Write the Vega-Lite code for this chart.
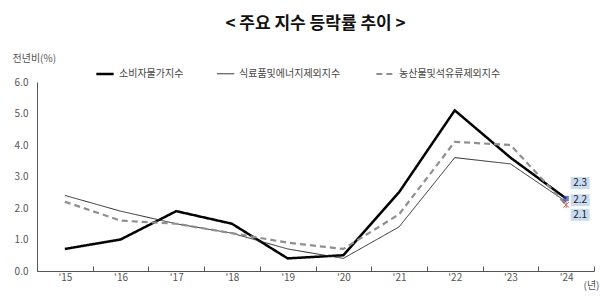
{
  "$schema": "https://vega.github.io/schema/vega-lite/v6.json",
  "autosize": "none",
  "width": 557,
  "height": 189,
  "padding": {"left": 37, "top": 82, "right": 6, "bottom": 35},
  "background": "white",
  "config": {"font": "Noto Sans CJK KR", "view": {"stroke": null}},
  "title": {"text": "< 주요 지수 등락률 추이 >", "fontSize": 17, "fontWeight": "bold", "color": "#111", "anchor": "middle", "offset": 20},
  "datasets": {
    "main": [
      {"year": "'15", "series": "소비자물가지수", "value": 0.7},
      {"year": "'16", "series": "소비자물가지수", "value": 1.0},
      {"year": "'17", "series": "소비자물가지수", "value": 1.9},
      {"year": "'18", "series": "소비자물가지수", "value": 1.5},
      {"year": "'19", "series": "소비자물가지수", "value": 0.4},
      {"year": "'20", "series": "소비자물가지수", "value": 0.5},
      {"year": "'21", "series": "소비자물가지수", "value": 2.5},
      {"year": "'22", "series": "소비자물가지수", "value": 5.1},
      {"year": "'23", "series": "소비자물가지수", "value": 3.6},
      {"year": "'24", "series": "소비자물가지수", "value": 2.3},
      {"year": "'15", "series": "식료품및에너지제외지수", "value": 2.4},
      {"year": "'16", "series": "식료품및에너지제외지수", "value": 1.9},
      {"year": "'17", "series": "식료품및에너지제외지수", "value": 1.5},
      {"year": "'18", "series": "식료품및에너지제외지수", "value": 1.2},
      {"year": "'19", "series": "식료품및에너지제외지수", "value": 0.7},
      {"year": "'20", "series": "식료품및에너지제외지수", "value": 0.4},
      {"year": "'21", "series": "식료품및에너지제외지수", "value": 1.4},
      {"year": "'22", "series": "식료품및에너지제외지수", "value": 3.6},
      {"year": "'23", "series": "식료품및에너지제외지수", "value": 3.4},
      {"year": "'24", "series": "식료품및에너지제외지수", "value": 2.2},
      {"year": "'15", "series": "농산물및석유류제외지수", "value": 2.2},
      {"year": "'16", "series": "농산물및석유류제외지수", "value": 1.6},
      {"year": "'17", "series": "농산물및석유류제외지수", "value": 1.5},
      {"year": "'18", "series": "농산물및석유류제외지수", "value": 1.2},
      {"year": "'19", "series": "농산물및석유류제외지수", "value": 0.9},
      {"year": "'20", "series": "농산물및석유류제외지수", "value": 0.7},
      {"year": "'21", "series": "농산물및석유류제외지수", "value": 1.8},
      {"year": "'22", "series": "농산물및석유류제외지수", "value": 4.1},
      {"year": "'23", "series": "농산물및석유류제외지수", "value": 4.0},
      {"year": "'24", "series": "농산물및석유류제외지수", "value": 2.1}
    ]
  },
  "data": {"name": "main"},
  "encoding": {
    "x": {
      "field": "year", "type": "ordinal", "sort": null, "bandPosition": 0.5,
      "scale": {"type": "band", "paddingInner": 0, "paddingOuter": 0},
      "axis": {
        "title": "(년)", "titleAnchor": "end", "titleX": 562, "titleY": 14, "titleAlign": "right", "titleBaseline": "middle",
        "titleFontSize": 10, "titleFontWeight": "normal", "titleColor": "#555",
        "labelAngle": 0, "labelFontSize": 10, "labelColor": "#555", "labelPadding": 6,
        "tickBand": "extent", "tickSize": -5, "tickColor": "#555", "domainColor": "#555", "grid": false
      }
    },
    "y": {
      "field": "value", "type": "quantitative",
      "scale": {"domain": [0, 6], "nice": false},
      "axis": {
        "title": "전년비(%)", "titleAngle": 0, "titleX": -25, "titleY": -24, "titleAlign": "left", "titleBaseline": "middle",
        "titleFontSize": 10, "titleFontWeight": "normal", "titleColor": "#555",
        "values": [0, 1, 2, 3, 4, 5, 6], "format": ".1f",
        "labelFontSize": 10, "labelColor": "#555", "labelPadding": 9,
        "ticks": false, "domainColor": "#555", "grid": false
      }
    }
  },
  "layer": [
    {
      "mark": {"type": "line"},
      "encoding": {
        "color": {
          "field": "series", "type": "nominal",
          "scale": {"domain": ["소비자물가지수", "식료품및에너지제외지수", "농산물및석유류제외지수"], "range": ["#000000", "#2a2a2a", "#8f8f8f"]},
          "legend": {
            "title": null, "orient": "none", "legendX": 58, "legendY": -18, "direction": "horizontal",
            "columnPadding": 30, "symbolType": "stroke", "symbolSize": 300, "labelFontSize": 10, "labelColor": "#444", "labelOffset": 4
          }
        },
        "strokeWidth": {
          "field": "series", "type": "nominal",
          "scale": {"type": "ordinal", "domain": ["소비자물가지수", "식료품및에너지제외지수", "농산물및석유류제외지수"], "range": [2.5, 1, 2.2]}
        },
        "strokeDash": {
          "field": "series", "type": "nominal",
          "scale": {"domain": ["소비자물가지수", "식료품및에너지제외지수", "농산물및석유류제외지수"], "range": [[1, 0], [1, 0], [6, 4]]}
        }
      }
    },
    {
      "transform": [{"filter": "datum.year == \"'24\" && datum.series == '소비자물가지수'"}],
      "mark": {"type": "point", "shape": "square", "filled": true, "color": "#3344aa", "size": 30}
    },
    {
      "transform": [{"filter": "datum.year == \"'24\" && datum.series == '농산물및석유류제외지수'"}],
      "mark": {"type": "point", "shape": "M-1,-1L1,1M-1,1L1,-1M0,-1.2L0,1.2", "filled": false, "color": "#cc2222", "strokeWidth": 1, "size": 30}
    },
    {
      "transform": [{"filter": "datum.year == \"'24\" && datum.series == '소비자물가지수'"}],
      "mark": {"type": "point", "shape": "M0.9,-4.3H4.7V-1.9H0.9Z", "filled": true, "color": "#c9dbf0", "opacity": 1, "size": 100}
    },
    {
      "transform": [{"filter": "datum.year == \"'24\" && datum.series == '식료품및에너지제외지수'"}],
      "mark": {"type": "point", "shape": "M0.9,-1.5H4.7V0.9H0.9Z", "filled": true, "color": "#c9dbf0", "opacity": 1, "size": 100}
    },
    {
      "transform": [{"filter": "datum.year == \"'24\" && datum.series == '농산물및석유류제외지수'"}],
      "mark": {"type": "point", "shape": "M0.9,0.8H4.7V3.2H0.9Z", "filled": true, "color": "#c9dbf0", "opacity": 1, "size": 100}
    },
    {
      "transform": [{"filter": "datum.year == \"'24\" && datum.series == '소비자물가지수'"}],
      "mark": {"type": "text", "dx": 14, "dy": -15.5, "fontSize": 10, "color": "#222", "align": "center", "baseline": "middle"},
      "encoding": {"text": {"field": "value", "type": "quantitative", "format": ".1f"}}
    },
    {
      "transform": [{"filter": "datum.year == \"'24\" && datum.series == '식료품및에너지제외지수'"}],
      "mark": {"type": "text", "dx": 14, "dy": -1.5, "fontSize": 10, "color": "#222", "align": "center", "baseline": "middle"},
      "encoding": {"text": {"field": "value", "type": "quantitative", "format": ".1f"}}
    },
    {
      "transform": [{"filter": "datum.year == \"'24\" && datum.series == '농산물및석유류제외지수'"}],
      "mark": {"type": "text", "dx": 14, "dy": 10, "fontSize": 10, "color": "#222", "align": "center", "baseline": "middle"},
      "encoding": {"text": {"field": "value", "type": "quantitative", "format": ".1f"}}
    }
  ]
}
